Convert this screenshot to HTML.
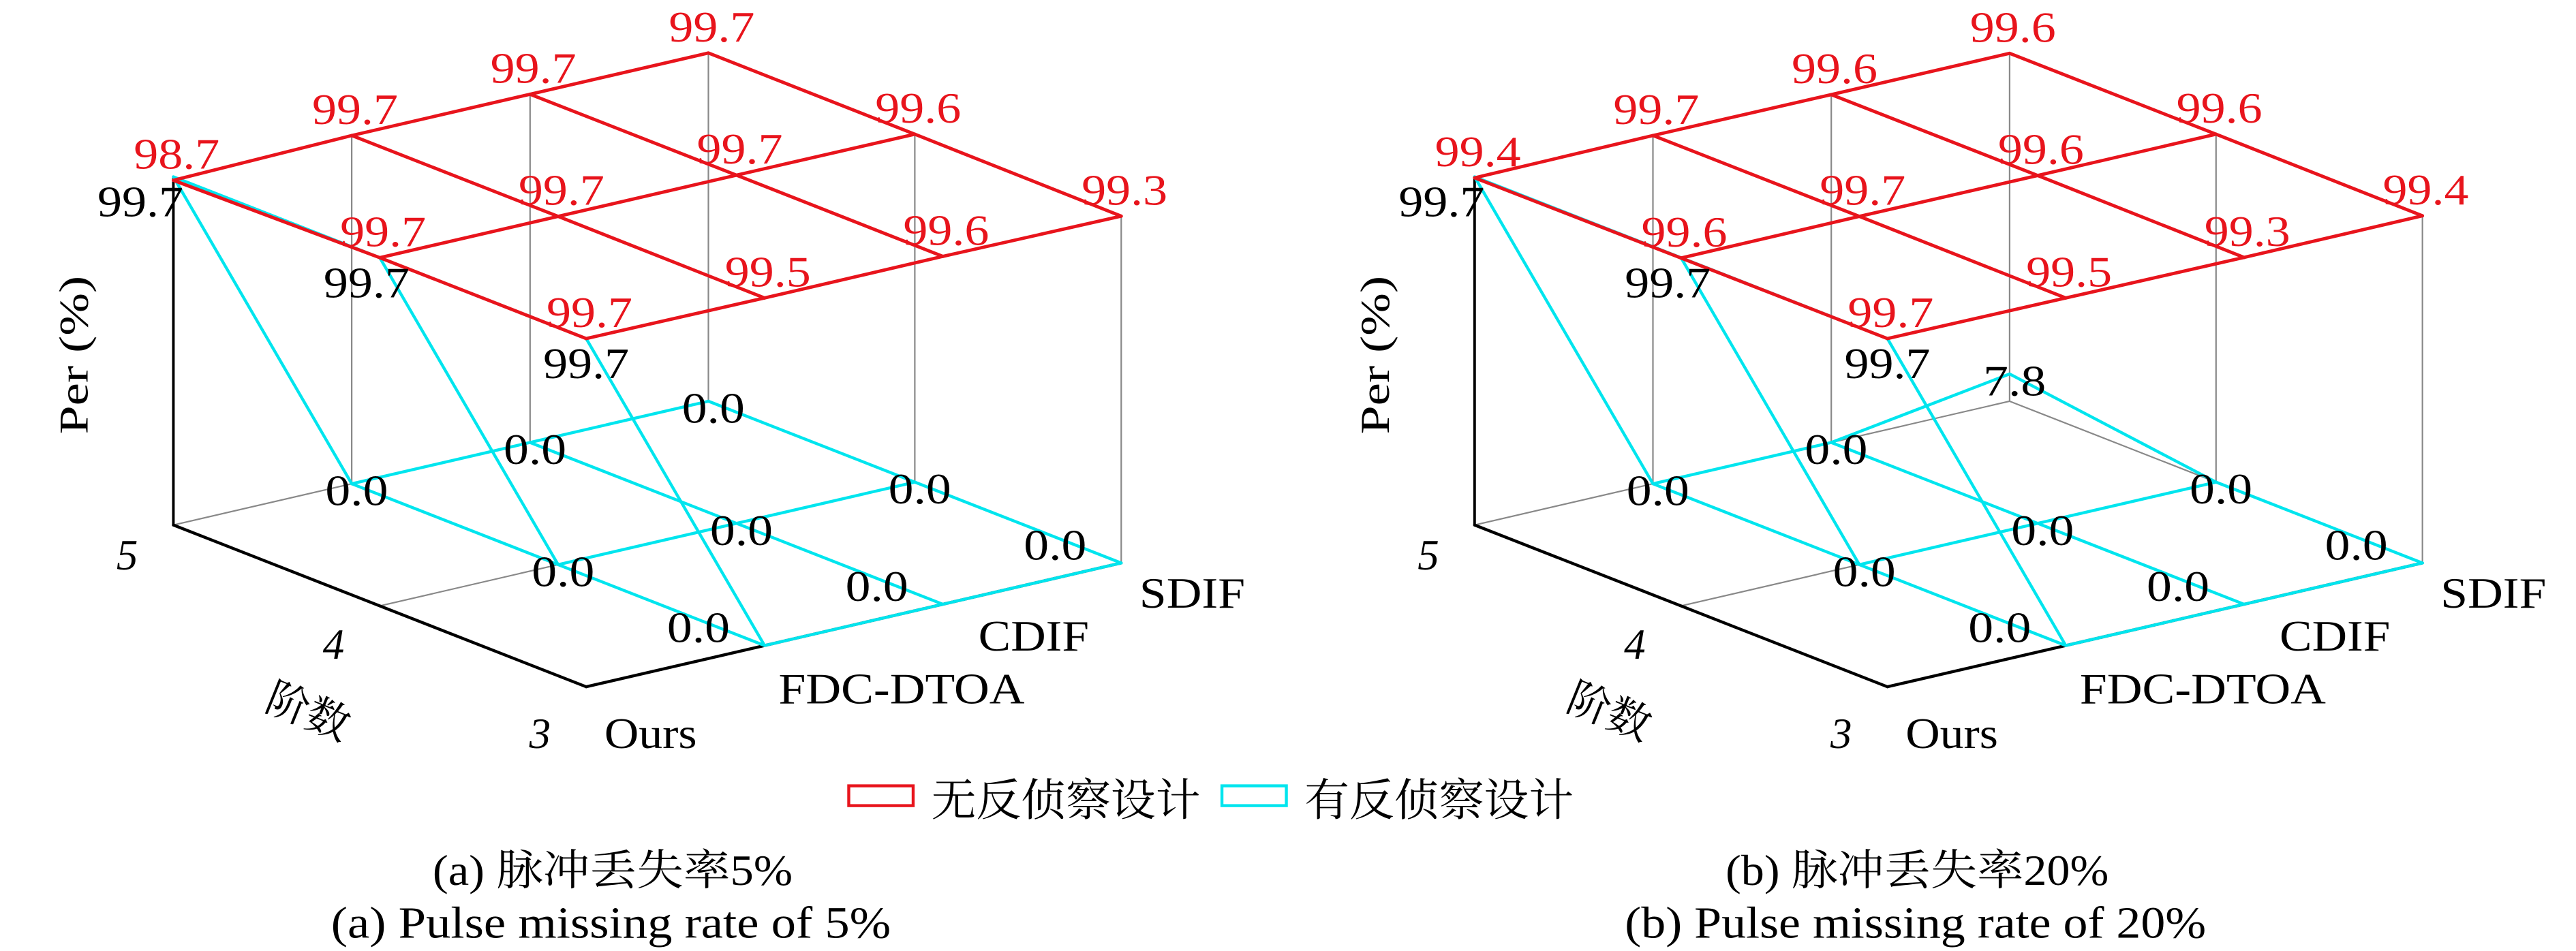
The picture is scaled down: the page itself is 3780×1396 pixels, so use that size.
<!DOCTYPE html>
<html><head><meta charset="utf-8"><style>
html,body{margin:0;padding:0;background:#fff}
svg{display:block}
text{font-family:"Liberation Serif","Noto Serif CJK SC",serif}
</style></head><body>
<svg id="chart" width="3780" height="1396" viewBox="0 0 1560 576" xmlns="http://www.w3.org/2000/svg"></svg>
<script>
const methods = ["Ours","FDC-DTOA","CDIF","SDIF"];
const orders = ["5","4","3"];
const redA = [[98.7,99.7,99.7,99.7],[99.7,99.7,99.7,99.6],[99.7,99.5,99.6,99.3]];
const cyanA = [[99.7,0.0,0.0,0.0],[99.7,0.0,0.0,0.0],[99.7,0.0,0.0,0.0]];
const redB = [[99.4,99.7,99.6,99.6],[99.6,99.7,99.6,99.6],[99.7,99.5,99.3,99.4]];
const cyanB = [[99.7,0.0,0.0,7.8],[99.7,0.0,0.0,0.0],[99.7,0.0,0.0,0.0]];
const legendLabels = ["无反侦察设计","有反侦察设计"];

const svg = document.getElementById('chart');
const NS = "http://www.w3.org/2000/svg";
function mk(tag, attrs, parent){
  const e = document.createElementNS(NS, tag);
  for (const k in attrs) e.setAttribute(k, attrs[k]);
  (parent||svg).appendChild(e);
  return e;
}
function proj(ox, oi, mj, v){
  return [ox + oi*125 + mj*108, 318 + oi*49 - mj*25 - v*2.116];
}
function line(g, a, b, color, w, name){
  const l = mk('line',{x1:a[0],y1:a[1],x2:b[0],y2:b[1],stroke:color,'stroke-width':w,'stroke-linecap':'round'},g);
  
  
  return l;
}
function txt(g, x, y, s, size, color, anchor, name, len, extra){
  const t = mk('text',{x:x,y:y,'font-size':size,fill:color,'text-anchor':anchor||'middle'},g);
  if (len) { t.setAttribute('textLength', len); t.setAttribute('lengthAdjust','spacingAndGlyphs'); }
  if (extra) for (const k in extra) t.setAttribute(k, extra[k]);
  t.textContent = s;
  
  
  return t;
}

function panel(ox, red, cyan, id){
  const g = mk('g',{});
  
  
  const nO = orders.length, nM = methods.length;
  for (let i=0;i<nO;i++) for (let j=0;j<nM-1;j++)
    line(g, proj(ox,i,j,0), proj(ox,i,j+1,0), '#888', 0.9, 'floor-grid');
  for (let j=1;j<nM;j++) for (let i=0;i<nO-1;i++)
    line(g, proj(ox,i,j,0), proj(ox,i+1,j,0), '#888', 0.9, 'floor-grid');
  for (let j=1;j<nM;j++) line(g, proj(ox,0,j,0), proj(ox,0,j,red[0][j]), '#888', 0.9, 'vertical-grid');
  for (let i=1;i<nO;i++) line(g, proj(ox,i,nM-1,0), proj(ox,i,nM-1,red[i][nM-1]), '#888', 0.9, 'vertical-grid');
  line(g, proj(ox,0,0,0), proj(ox,0,0,99.7), '#000', 1.6, 'z-axis');
  line(g, proj(ox,0,0,0), proj(ox,nO-1,0,0), '#000', 1.8, 'order-axis');
  line(g, proj(ox,nO-1,0,0), proj(ox,nO-1,nM-1,0), '#000', 1.8, 'method-axis');
  for (let i=0;i<nO;i++) for (let j=0;j<nM-1;j++)
    line(g, proj(ox,i,j,cyan[i][j]), proj(ox,i,j+1,cyan[i][j+1]), '#00e5ee', 1.8, 'cyan-series-line');
  for (let j=0;j<nM;j++) for (let i=0;i<nO-1;i++)
    line(g, proj(ox,i,j,cyan[i][j]), proj(ox,i+1,j,cyan[i+1][j]), '#00e5ee', 1.8, 'cyan-series-line');
  for (let i=0;i<nO;i++) for (let j=0;j<nM-1;j++)
    line(g, proj(ox,i,j,red[i][j]), proj(ox,i,j+1,red[i][j+1]), '#e8141c', 2, 'red-series-line');
  for (let j=0;j<nM;j++) for (let i=0;i<nO-1;i++)
    line(g, proj(ox,i,j,red[i][j]), proj(ox,i+1,j,red[i+1][j]), '#e8141c', 2, 'red-series-line');
  const hiX = [-20,-8,0];
  for (let i=0;i<nO;i++) for (let j=0;j<nM;j++){
    const r = proj(ox,i,j,red[i][j]);
    txt(g, r[0]+2, r[1]-7, red[i][j].toFixed(1), 26, '#e8141c', 'middle', 'red-value-label', 52);
    const c = proj(ox,i,j,cyan[i][j]);
    if (cyan[i][j] > 50) txt(g, c[0]+hiX[i], c[1]+24, cyan[i][j].toFixed(1), 26, '#000', 'middle', 'cyan-value-label', 52);
    else if (i === nO-1) txt(g, c[0]-40, c[1]-2, cyan[i][j].toFixed(1), 26, '#000', 'middle', 'cyan-value-label', 38);
    else txt(g, c[0]+3, c[1]+13, cyan[i][j].toFixed(1), 26, '#000', 'middle', 'cyan-value-label', 38);
  }
  for (let i=0;i<nO;i++){
    const p = proj(ox,i,0,0);
    txt(g, p[0]-28, p[1]+27+i*5, orders[i], 26, '#000', 'middle', 'order-tick-label', null, {'font-style':'italic'});
  }
  const mx = [394,546,626,722], my=[453,426,394,368], ml=[56,149,67,64];
  for (let j=0;j<nM;j++){
    txt(g, ox-105+mx[j], my[j], methods[j], 26, '#000', 'middle', 'method-tick-label', ml[j]);
  }
  txt(g, ox+82, 440, '阶数', 26, '#000', 'middle', 'order-axis-title', null, {transform:'rotate(22 '+(ox+82)+' 430)'});
  txt(g, ox-60, 223, 'Per (%)', 25, '#000', 'middle', 'z-axis-title', 96, {transform:'rotate(-90 '+(ox-60)+' 215)'});
  return g;
}
panel(105, redA, cyanA, 'a');
panel(893, redB, cyanB, 'b');

const lg = mk('g',{});


const lc = ['#e8141c','#00e5ee'], lx=[514,740];
for (let k=0;k<2;k++){
  const r = mk('rect',{x:lx[k],y:476,width:39,height:12,fill:'none',stroke:lc[k],'stroke-width':1.8},lg);
  
  
  txt(lg, lx[k]+50, 494, legendLabels[k], 27, '#000', 'start', 'legend-entry', 163);
}
txt(svg, 371, 536, '(a) 脉冲丢失率5%', 26, '#000', 'middle', 'caption-a-cn', 218);
txt(svg, 370, 568, '(a) Pulse missing rate of 5%', 27, '#000', 'middle', 'caption-a-en', 339);
txt(svg, 1161, 536, '(b) 脉冲丢失率20%', 26, '#000', 'middle', 'caption-b-cn', 232);
txt(svg, 1160, 568, '(b) Pulse missing rate of 20%', 27, '#000', 'middle', 'caption-b-en', 352);
</script>
</body></html>
